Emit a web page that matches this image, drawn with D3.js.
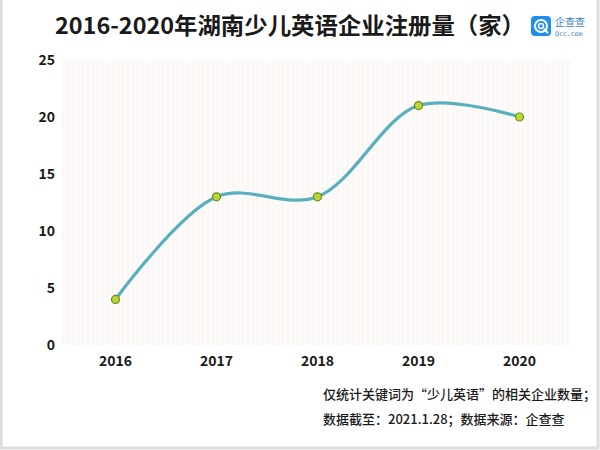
<!DOCTYPE html>
<html><head><meta charset="utf-8">
<script src="https://cdn.jsdelivr.net/npm/d3@7"></script>
<style>body{margin:0;background:#fff}svg{display:block}</style>
</head><body>
<svg id="c" width="600" height="450"></svg>
<script>
const years = ["2016","2017","2018","2019","2020"];
const counts = [4, 13, 13, 21, 20];
const yTicks = [0, 5, 10, 15, 20, 25];
const title = "2016-2020年湖南少儿英语企业注册量（家）";
const notes = ["仅统计关键词为“少儿英语”的相关企业数量；", "数据截至：2021.1.28；数据来源：企查查"];

const svg = d3.select("#c");
const font = "'Noto Sans CJK SC','Noto Sans',sans-serif";
// frame
svg.append("rect").attr("x",1).attr("y",-2).attr("width",597).attr("height",450).attr("fill","#fff").attr("stroke","#dcdcdc").attr("stroke-width",3);

const x = d3.scaleBand().domain(years).range([65, 570]).padding(0);
const y = d3.scaleLinear().domain([0, 25]).range([345, 60]);

// plot background
const bg = svg.append("g");
bg.append("rect").attr("x",63).attr("y",60).attr("width",508).attr("height",285).attr("fill","#fdfbf9");
const stripes = d3.range(63, 571, 5);
bg.selectAll("line.s").data(stripes).join("line").attr("class","s")
  .attr("x1",d=>d).attr("x2",d=>d).attr("y1",60).attr("y2",345)
  .attr("stroke","#f7f3ef").attr("stroke-width",1);

// title
svg.append("text").attr("x",55).attr("y",34).attr("text-anchor","start")
  .attr("font-family",font).attr("font-weight","bold").attr("font-size",23)
  .attr("textLength",470).attr("lengthAdjust","spacingAndGlyphs")
  .attr("fill","#1a1a1a").text(title);

// logo
const lg = svg.append("g").attr("transform","translate(531,16)");
lg.append("rect").attr("width",20).attr("height",20).attr("rx",4).attr("fill","#1e8ff0");
lg.append("circle").attr("cx",10).attr("cy",10).attr("r",6).attr("fill","none").attr("stroke","#fff").attr("stroke-width",2);
lg.append("circle").attr("cx",10).attr("cy",10).attr("r",2.5).attr("fill","none").attr("stroke","#fff").attr("stroke-width",1.5);
lg.append("line").attr("x1",13).attr("y1",13).attr("x2",17).attr("y2",17).attr("stroke","#fff").attr("stroke-width",2);
lg.append("text").attr("x",24).attr("y",10).attr("font-family",font).attr("font-size",10).attr("fill","#3b7fc4").text("企查查");
lg.append("text").attr("x",24).attr("y",20).attr("font-family","DejaVu Sans Mono,monospace").attr("font-size",6.5).attr("fill","#3b7fc4").text("Qcc.com");

// y axis
const ya = svg.append("g").attr("transform","translate(55,0)")
  .call(d3.axisLeft(y).tickValues(yTicks).tickSize(0).tickPadding(0));
ya.select(".domain").remove();
ya.selectAll("text").attr("font-family",font).attr("font-weight","bold").attr("font-size",14).attr("fill","#1a1a1a");

// x axis
const xa = svg.append("g").attr("transform","translate(0,354)")
  .call(d3.axisBottom(x).tickSize(0).tickPadding(2));
xa.select(".domain").remove();
xa.selectAll("text").attr("font-family",font).attr("font-weight","bold").attr("font-size",14).attr("fill","#1a1a1a");

// line
const data = years.map((k,i)=>({k, v: counts[i]}));
const line = d3.line().x(d=>x(d.k)+x.bandwidth()/2).y(d=>y(d.v)).curve(d3.curveCatmullRom.alpha(0.5));
svg.append("path").datum(data).attr("d",line).attr("fill","none").attr("stroke","#5aafbf").attr("stroke-width",3.2);
svg.selectAll("circle.p").data(data).join("circle").attr("class","p")
  .attr("cx",d=>x(d.k)+x.bandwidth()/2).attr("cy",d=>y(d.v)).attr("r",4)
  .attr("fill","#bcd634").attr("stroke","#6a8e1e").attr("stroke-width",1.2);

// notes
svg.selectAll("text.n").data(notes).join("text").attr("class","n")
  .attr("x",323).attr("y",(d,i)=>399+i*25)
  .attr("font-family",font).attr("font-weight","500").attr("font-size",13).attr("fill","#1a1a1a").text(d=>d);
</script>
</body></html>
